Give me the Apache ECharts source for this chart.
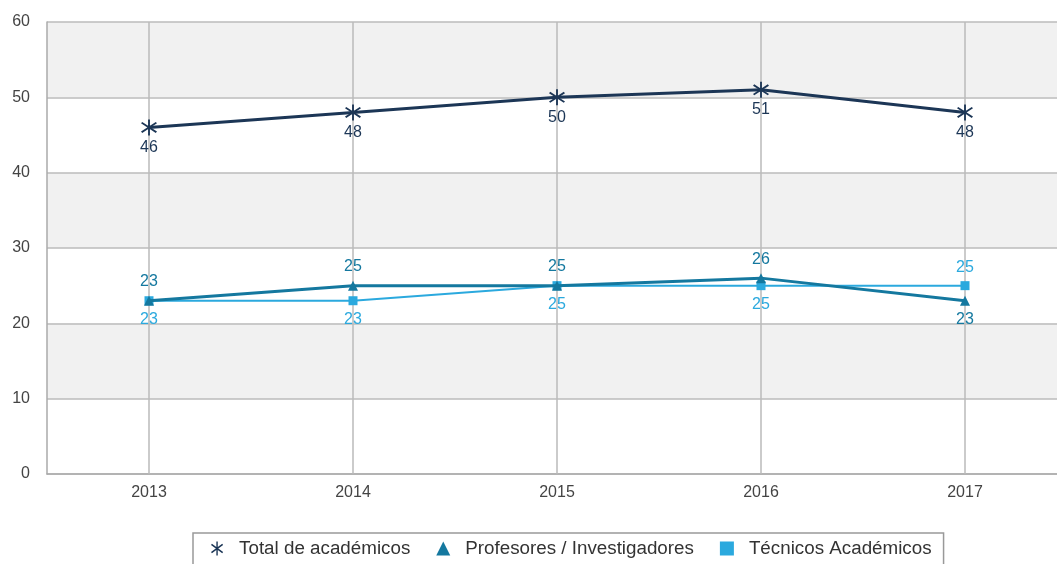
<!DOCTYPE html>
<html>
<head>
<meta charset="utf-8">
<script src="https://cdn.jsdelivr.net/npm/echarts@6/dist/echarts.min.js"></script>
<style>html,body{margin:0;padding:0;background:#fff}#c{width:1057px;height:564px}</style>
</head>
<body>
<div id="c"></div>
<script>
var years = ['2013', '2014', '2015', '2016', '2017'];
var totalAcademicos = [46, 48, 50, 51, 48];
var profesores = [23, 25, 25, 26, 23];
var tecnicos = [23, 23, 25, 25, 25];
var profLabelPos = ['top', 'top', 'top', 'top', 'bottom'];
var tecLabelPos = ['bottom', 'bottom', 'bottom', 'bottom', 'top'];
var yTicks = [0, 10, 20, 30, 40, 50, 60];

var asterisk = 'path://M9 0 L11 0 L11 20 L9 20 Z M2.66 3.12 L18.66 15.12 L17.34 16.88 L1.34 4.88 Z M1.34 15.12 L17.34 3.12 L18.66 4.88 L2.66 16.88 Z';
var cTotal = '#1c3656', cProf = '#14789f', cTec = '#2ba9de';
var font = 'Liberation Sans';

var chart = echarts.init(document.getElementById('c'));
chart.setOption({
  animation: false,
  backgroundColor: '#fff',
  grid: { left: 47, top: 22, width: 1020, bottom: 90, containLabel: false, outerBoundsMode: 'none' },
  legend: {
    left: 193, top: 533,
    padding: [6, 12, 20, 18],
    borderColor: '#999', borderWidth: 1.5,
    itemGap: 26, itemWidth: 14, itemHeight: 14,
    textStyle: { fontFamily: font, fontSize: 18.8, color: '#333', padding: [0, 0, 0, 10] },
    data: [
      { name: 'Total de académicos', icon: asterisk, itemStyle: { color: cTotal } },
      { name: 'Profesores / Investigadores', icon: 'triangle', itemStyle: { color: cProf } },
      { name: 'Técnicos Académicos', icon: 'rect', itemStyle: { color: cTec } }
    ]
  },
  xAxis: {
    type: 'category', data: years, boundaryGap: true,
    axisLine: { lineStyle: { color: '#aaa', width: 1.5 } },
    axisTick: { show: true, inside: true, length: 452, alignWithLabel: true, lineStyle: { color: '#bbb', width: 1.5 } },
    axisLabel: { fontFamily: font, fontSize: 16, color: '#444', margin: 11 },
    splitLine: { show: false }
  },
  yAxis: {
    type: 'value', min: 0, max: 60, interval: 10,
    axisLine: { show: true, lineStyle: { color: '#aaa', width: 1.5 } },
    axisTick: { show: false },
    axisLabel: { fontFamily: font, fontSize: 16, color: '#444', margin: 17,
      formatter: function (v) { return yTicks.indexOf(v) >= 0 ? String(v) : ''; } },
    splitLine: { show: true, lineStyle: { color: '#bbb', width: 1.5 } },
    splitArea: { show: true, areaStyle: { color: ['#ffffff', '#f1f1f1'] } }
  },
  series: [
    {
      name: 'Total de académicos', type: 'line', data: totalAcademicos,
      symbol: asterisk, symbolSize: 16, z: 5,
      lineStyle: { color: cTotal, width: 3 }, itemStyle: { color: cTotal },
      label: { show: true, position: 'bottom', distance: 4, fontFamily: font, fontSize: 16, color: cTotal }
    },
    {
      name: 'Profesores / Investigadores', type: 'line', z: 4,
      data: profesores.map(function (v, i) { return { value: v, label: { position: profLabelPos[i] } }; }),
      symbol: 'triangle', symbolSize: 10,
      lineStyle: { color: cProf, width: 3 }, itemStyle: { color: cProf },
      label: { show: true, distance: 6, fontFamily: font, fontSize: 16, color: cProf }
    },
    {
      name: 'Técnicos Académicos', type: 'line', z: 3,
      data: tecnicos.map(function (v, i) { return { value: v, label: { position: tecLabelPos[i] } }; }),
      symbol: 'rect', symbolSize: 9,
      lineStyle: { color: cTec, width: 2 }, itemStyle: { color: cTec },
      label: { show: true, distance: 6, fontFamily: font, fontSize: 16, color: cTec }
    }
  ]
});
</script>
</body>
</html>
